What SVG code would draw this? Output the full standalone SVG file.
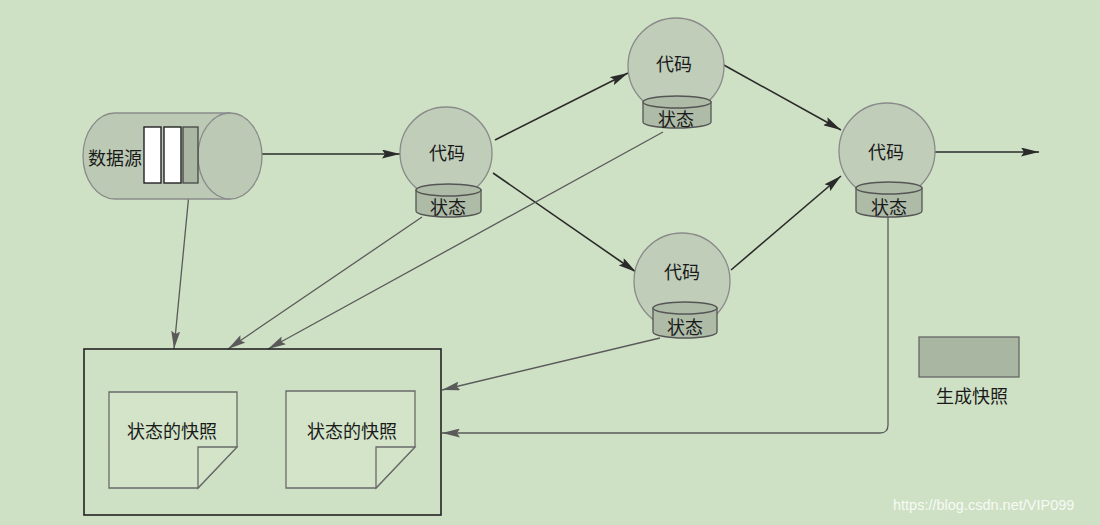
<svg xmlns="http://www.w3.org/2000/svg" width="1100" height="525" viewBox="0 0 1100 525">
<defs>
<style>
.bg{fill:#cfe1c5}
.ball{fill:#c0cdb9;stroke:#8a8a8a;stroke-width:1.3}
.cyl{fill:#aebba7;stroke:#555;stroke-width:1.3}
.src{fill:#bccab5;stroke:#8a8a8a;stroke-width:1.3}
.flow{fill:none;stroke:#2a2a2a;stroke-width:1.6}
.snap{fill:none;stroke:#5a5a5a;stroke-width:1.3}
.box{fill:none;stroke:#222;stroke-width:1.6}
.doc{fill:#d3e4c9;stroke:#6a6a6a;stroke-width:1.3}
.t{font-family:"Noto Sans CJK SC","Noto Sans",sans-serif;font-size:18px;fill:#1a1a1a;text-anchor:middle;dominant-baseline:central}
.wm{font-family:"Liberation Sans",Arial,sans-serif;font-size:14.5px;fill:#ffffff;fill-opacity:0.85}
</style>
<marker id="ah" viewBox="0 0 18 9" refX="18" refY="4.5" markerWidth="18" markerHeight="9" markerUnits="userSpaceOnUse" orient="auto">
<path d="M0,0 L18,4.5 L0,9 L3,4.5 Z" fill="#2a2a2a"/>
</marker>
<marker id="ag" viewBox="0 0 18 9" refX="18" refY="4.5" markerWidth="18" markerHeight="9" markerUnits="userSpaceOnUse" orient="auto">
<path d="M0,0 L18,4.5 L0,9 L3,4.5 Z" fill="#5a5a5a"/>
</marker>
</defs>
<rect class="bg" x="0" y="0" width="1100" height="525"/>

<g id="connectors">
<path class="flow" d="M262,154 L400,154" marker-end="url(#ah)"/>
<path class="flow" d="M495,140 L628,73" marker-end="url(#ah)"/>
<path class="flow" d="M493,173 L636,272" marker-end="url(#ah)"/>
<path class="flow" d="M722,64 L841,130" marker-end="url(#ah)"/>
<path class="flow" d="M731,270 L841,176" marker-end="url(#ah)"/>
<path class="flow" d="M935,152 L1039,152" marker-end="url(#ah)"/>
<path class="snap" d="M190,183 L174,349" marker-end="url(#ag)"/>
<path class="snap" d="M422,217 L228,349" marker-end="url(#ag)"/>
<path class="snap" d="M663,132 L268,349" marker-end="url(#ag)"/>
<path class="snap" d="M660,338 L442,390" marker-end="url(#ag)"/>
<path class="snap" d="M888,217 V425 Q888,433 880,433 H442" marker-end="url(#ag)"/>
</g>

<g id="source">
<path class="src" d="M230,113 H115 A32,43 0 0 0 115,199 H230 Z"/>
<ellipse class="src" cx="230" cy="156" rx="32" ry="43"/>
<rect x="144" y="127" width="17" height="56" fill="#ffffff" stroke="#222" stroke-width="1.4"/>
<rect x="164" y="127" width="17" height="56" fill="#ffffff" stroke="#222" stroke-width="1.4"/>
<rect x="183" y="127" width="15" height="56" fill="#aab7a3" stroke="#444" stroke-width="1.3"/>
<text class="t" x="115" y="157">数据源</text>
</g>

<g id="node1">
<circle class="ball" cx="446" cy="153" r="46"/>
<text class="t" x="447" y="152">代码</text>
<path class="cyl" d="M416,190 V211 A32.5,6 0 0 0 481,211 V190 Z"/>
<ellipse class="cyl" cx="448.5" cy="190" rx="32.5" ry="6"/>
<text class="t" x="448" y="206">状态</text>
</g>

<g id="node2">
<circle class="ball" cx="676" cy="66" r="48"/>
<text class="t" x="674" y="63">代码</text>
<path class="cyl" d="M643,102 V122 A34,6 0 0 0 711,122 V102 Z"/>
<ellipse class="cyl" cx="677" cy="102" rx="34" ry="6"/>
<text class="t" x="676" y="118">状态</text>
</g>

<g id="node3">
<circle class="ball" cx="682" cy="281" r="48"/>
<text class="t" x="682" y="271">代码</text>
<path class="cyl" d="M653,308 V332 A32,6 0 0 0 717,332 V308 Z"/>
<ellipse class="cyl" cx="685" cy="308" rx="32" ry="6"/>
<text class="t" x="685" y="326">状态</text>
</g>

<g id="node4">
<circle class="ball" cx="887" cy="151" r="48"/>
<text class="t" x="886" y="151">代码</text>
<path class="cyl" d="M856,188 V211 A33,6 0 0 0 922,211 V188 Z"/>
<ellipse class="cyl" cx="889" cy="188" rx="33" ry="6"/>
<text class="t" x="889" y="206">状态</text>
</g>

<g id="snapshots">
<rect class="box" x="84" y="349" width="357" height="166"/>
<g id="doc1">
<path class="doc" d="M109,392 H237 V447 L198,488 H109 Z"/>
<path class="doc" d="M237,447 H198 V488 Z"/>
<text class="t" x="172" y="430">状态的快照</text>
</g>
<g id="doc2">
<path class="doc" d="M286,391 H415 V447 L376,488 H286 Z"/>
<path class="doc" d="M415,447 H376 V488 Z"/>
<text class="t" x="352" y="430">状态的快照</text>
</g>
</g>

<g id="legend">
<rect x="919" y="337" width="100" height="40" fill="#a9b6a2" stroke="#666" stroke-width="1.3"/>
<text class="t" x="972" y="395">生成快照</text>
</g>

<text class="wm" x="893" y="510">https://blog.csdn.net/VIP099</text>
</svg>
